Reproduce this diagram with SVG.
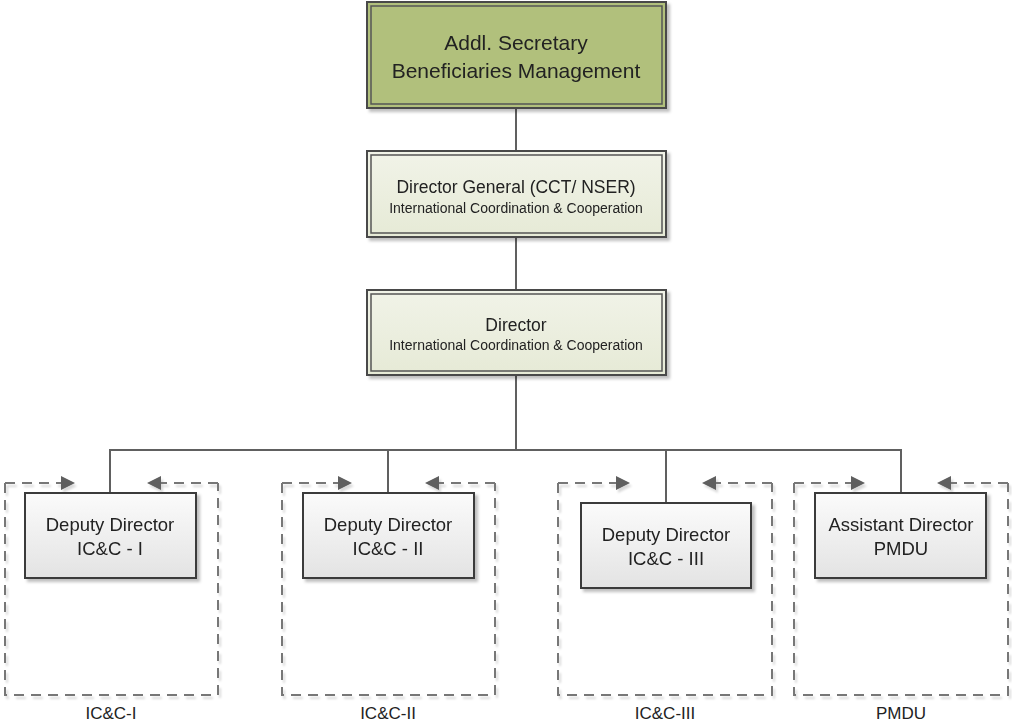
<svg xmlns="http://www.w3.org/2000/svg" width="1012" height="721" viewBox="0 0 1012 721">
<style>
text{font-family:"Liberation Sans",Arial,sans-serif;fill:#222;text-anchor:middle}
.conn{stroke:#606060;stroke-width:2;fill:none}
.dash{stroke:#777;stroke-width:2;fill:none;stroke-dasharray:10 7}
.in{fill:none;stroke:#555;stroke-width:1.5}
.dep{fill:url(#gDep);stroke:#3a3a3a;stroke-width:2}
.t1{font-size:18.5px}
.sub{font-size:14px}
.lab{font-size:17px}
</style>
<defs>
<linearGradient id="gDep" x1="0" y1="0" x2="0" y2="1"><stop offset="0" stop-color="#fbfbfb"/><stop offset="1" stop-color="#e3e3e3"/></linearGradient>
<linearGradient id="gDir" x1="0" y1="0" x2="0" y2="1"><stop offset="0" stop-color="#f1f3e8"/><stop offset="1" stop-color="#e6eAd6"/></linearGradient>
<filter id="sh" x="-10%" y="-10%" width="130%" height="140%"><feDropShadow dx="3" dy="3" stdDeviation="1.5" flood-color="#000" flood-opacity="0.25"/></filter>
<filter id="shd" x="-10%" y="-10%" width="130%" height="130%"><feDropShadow dx="2" dy="3" stdDeviation="1" flood-color="#000" flood-opacity="0.15"/></filter>
<marker id="ah" markerUnits="userSpaceOnUse" markerWidth="16" markerHeight="16" refX="0" refY="7" orient="auto"><path d="M0,0 L14,7 L0,14 z" fill="#5e5e5e"/></marker>
</defs>

<g id="connectors">
<path class="conn" d="M516,108 V151"/>
<path class="conn" d="M516,237 V290"/>
<path class="conn" stroke-width="3" d="M516,375 V450"/>
<path class="conn" d="M110,493 V450 H901 V493"/>
<path class="conn" d="M388,450 V493"/>
<path class="conn" d="M666,450 V503"/>
</g>

<g id="containers" filter="url(#shd)">
<g id="c1">
<path class="dash" d="M5,483 V695 H218 V483"/>
<path class="dash" d="M5,483 H61" marker-end="url(#ah)"/>
<path class="dash" d="M218,483 H161" marker-end="url(#ah)"/>
</g>
<g id="c2">
<path class="dash" d="M282,483 V695 H495 V483"/>
<path class="dash" d="M282,483 H338" marker-end="url(#ah)"/>
<path class="dash" d="M495,483 H439" marker-end="url(#ah)"/>
</g>
<g id="c3">
<path class="dash" d="M558,483 V695 H772 V483"/>
<path class="dash" d="M558,483 H616" marker-end="url(#ah)"/>
<path class="dash" d="M772,483 H716" marker-end="url(#ah)"/>
</g>
<g id="c4">
<path class="dash" d="M794,483 V695 H1008 V483"/>
<path class="dash" d="M794,483 H851" marker-end="url(#ah)"/>
<path class="dash" d="M1008,483 H951" marker-end="url(#ah)"/>
</g>
</g>

<g id="n-addl" filter="url(#sh)">
<rect x="367" y="2" width="299" height="106" fill="#b1c07c" stroke="#4a4a4a" stroke-width="2"/>
<rect x="371" y="6" width="291" height="98" class="in"/>
<text x="516" y="50" font-size="21">Addl. Secretary</text>
<text x="516" y="78" font-size="21">Beneficiaries Management</text>
</g>

<g id="n-dg" filter="url(#sh)">
<rect x="367" y="151" width="299" height="86" fill="url(#gDir)" stroke="#4a4a4a" stroke-width="2"/>
<rect x="371" y="155" width="291" height="78" class="in"/>
<text x="516" y="193" font-size="17.5">Director General (CCT/ NSER)</text>
<text x="516" y="213" class="sub">International Coordination &amp; Cooperation</text>
</g>

<g id="n-dir" filter="url(#sh)">
<rect x="367" y="290" width="299" height="85" fill="url(#gDir)" stroke="#4a4a4a" stroke-width="2"/>
<rect x="371" y="294" width="291" height="77" class="in"/>
<text x="516" y="331" font-size="17.5">Director</text>
<text x="516" y="350" class="sub">International Coordination &amp; Cooperation</text>
</g>

<g id="n-dd1" filter="url(#sh)">
<rect x="25" y="493" width="171" height="85" class="dep"/>
<text x="110" y="531" class="t1">Deputy Director</text>
<text x="110" y="555" class="t1">IC&amp;C - I</text>
</g>

<g id="n-dd2" filter="url(#sh)">
<rect x="303" y="493" width="171" height="85" class="dep"/>
<text x="388" y="531" class="t1">Deputy Director</text>
<text x="388" y="555" class="t1">IC&amp;C - II</text>
</g>

<g id="n-dd3" filter="url(#sh)">
<rect x="581" y="503" width="170" height="85" class="dep"/>
<text x="666" y="541" class="t1">Deputy Director</text>
<text x="666" y="565" class="t1">IC&amp;C - III</text>
</g>

<g id="n-ad" filter="url(#sh)">
<rect x="815" y="493" width="171" height="85" class="dep"/>
<text x="901" y="531" class="t1">Assistant Director</text>
<text x="901" y="555" class="t1">PMDU</text>
</g>

<g id="labels">
<text x="111" y="719" class="lab">IC&amp;C-I</text>
<text x="388" y="719" class="lab">IC&amp;C-II</text>
<text x="665" y="719" class="lab">IC&amp;C-III</text>
<text x="901" y="719" class="lab">PMDU</text>
</g>
</svg>
